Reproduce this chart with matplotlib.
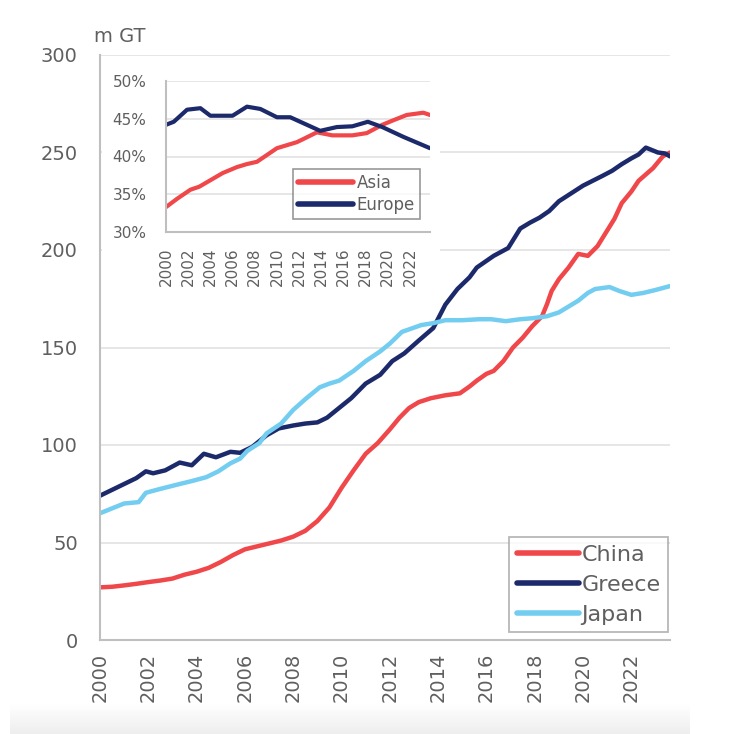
import numpy as np
import matplotlib
matplotlib.use("Agg")
import matplotlib.pyplot as plt
from matplotlib.patches import Rectangle

plt.rcParams['font.family'] = ['DejaVu Sans']

# data (year, m GT)
china_x = [2000.0, 2000.5, 2001.0, 2001.5, 2002.0, 2002.5, 2003.0, 2003.5, 2004.0, 2004.5,
           2005.0, 2005.5, 2006.0, 2006.5, 2007.0, 2007.5, 2008.0, 2008.5, 2009.0, 2009.5,
           2010.0, 2010.5, 2011.0, 2011.5, 2012.0, 2012.4, 2012.8, 2013.2, 2013.7, 2014.3,
           2014.9, 2015.3, 2015.6, 2016.0, 2016.3, 2016.7, 2017.1, 2017.5, 2017.9, 2018.3,
           2018.5, 2018.7, 2019.0, 2019.4, 2019.8, 2020.2, 2020.6, 2020.9, 2021.3, 2021.6,
           2022.0, 2022.3, 2022.9, 2023.3, 2023.6]
china_y = [27, 27.3, 28, 28.8, 29.7, 30.5, 31.5, 33.5, 35, 37,
           40, 43.5, 46.5, 48, 49.5, 51, 53, 56, 61, 68,
           78, 87, 95.5, 101, 108, 114, 119, 122, 124, 125.5,
           126.5, 130, 133, 136.5, 138, 143, 150, 155, 161, 166,
           172, 179, 185, 191, 198, 197, 202, 208, 216, 224,
           230, 235.5, 242, 248, 250]

greece_x = [2000.0, 2000.5, 2001.0, 2001.5, 2001.9, 2002.2, 2002.7, 2003.3, 2003.8, 2004.3,
            2004.8, 2005.4, 2005.8, 2006.3, 2006.9, 2007.4, 2008.0, 2008.5, 2009.0, 2009.4,
            2009.8, 2010.4, 2011.0, 2011.6, 2012.1, 2012.6, 2013.2, 2013.8, 2014.3, 2014.8,
            2015.3, 2015.6, 2016.3, 2016.9, 2017.4, 2017.8, 2018.2, 2018.6, 2019.0, 2019.5,
            2020.0, 2020.4, 2020.8, 2021.2, 2021.6, 2022.0, 2022.3, 2022.6, 2022.9, 2023.1,
            2023.4, 2023.6]
greece_y = [74, 77, 80, 83, 86.5, 85.5, 87, 91, 89.6, 95.5,
            93.7, 96.5, 96, 99, 105, 108.5, 110, 111, 111.6, 114,
            118, 124, 131.5, 136, 143, 147, 153.6, 160, 172, 180,
            186, 191, 197, 201, 211, 214, 216.6, 220, 225, 229,
            233, 235.5, 238, 240.6, 244, 247, 249, 252.5, 251, 250,
            249.5, 248]

japan_x = [2000.0, 2000.5, 2001.0, 2001.6, 2001.9, 2002.5, 2003.3, 2003.8, 2004.4, 2004.9,
           2005.4, 2005.8, 2006.1, 2006.6, 2006.9, 2007.5, 2008.0, 2008.5, 2009.1, 2009.5,
           2009.9, 2010.5, 2011.0, 2011.6, 2012.0, 2012.5, 2013.3, 2013.8, 2014.3, 2015.0,
           2015.7, 2016.2, 2016.8, 2017.4, 2017.9, 2018.5, 2019.0, 2019.4, 2019.8, 2020.2,
           2020.5, 2021.1, 2021.5, 2022.0, 2022.5, 2023.0, 2023.6]
japan_y = [65, 67.5, 70, 70.7, 75.5, 77.5, 80, 81.5, 83.5, 86.5,
           90.6, 93, 97, 101, 106, 111, 118, 123.5, 129.6, 131.5,
           133, 138, 143, 148, 152, 158, 161.5, 162.5, 164, 164,
           164.5, 164.5, 163.5, 164.5, 165, 166, 168, 171, 174, 178,
           180, 181, 179, 177, 178, 179.5, 181.5]

# inset: share of fleet (%)
asia_x = [2000.0, 2001.0, 2002.2, 2003.0, 2003.7, 2005.1, 2006.4, 2007.3, 2008.2, 2009.0,
          2010.0, 2011.8, 2012.5, 2013.6, 2015.0, 2016.8, 2018.1, 2019.5, 2020.5, 2021.7,
          2023.2, 2023.8]
asia_y = [33.3, 34.4, 35.6, 36.0, 36.6, 37.8, 38.6, 39.0, 39.3, 40.1,
          41.1, 41.9, 42.4, 43.2, 42.8, 42.8, 43.1, 44.2, 44.8, 45.5,
          45.8, 45.5]
europe_x = [2000.0, 2000.7, 2001.9, 2003.1, 2004.0, 2006.0, 2007.3, 2008.5, 2010.0, 2011.2,
            2012.4, 2013.9, 2015.4, 2016.8, 2018.2, 2019.5, 2021.4, 2023.8]
europe_y = [44.2, 44.6, 46.2, 46.4, 45.4, 45.4, 46.6, 46.3, 45.2, 45.2,
            44.4, 43.4, 43.9, 44.0, 44.6, 43.9, 42.6, 41.1]

tick_years = list(range(2000, 2023, 2))
main_yticks = [0, 50, 100, 150, 200, 250, 300]
inset_yticks = [30, 35, 40, 45, 50]

RED = '#f0474a'
NAVY = '#1c2a6b'
LBLUE = '#72cdf1'
TXT = '#5f5f5f'
SPINE = '#bfbfbf'
GRID = '#e4e4e4'

fig = plt.figure(figsize=(7.43, 7.34), dpi=100)

# screenshot-like grey band at the bottom
bg = fig.add_axes([10/743, 0, 680/743, 30/734], zorder=-5)
grad = np.linspace(0, 1, 50).reshape(-1, 1)
bg.imshow(grad, aspect='auto', cmap=matplotlib.colors.LinearSegmentedColormap.from_list('g', ['#eeeeee', '#ffffff']),
          extent=[0, 1, 0, 1], origin='lower')
bg.axis('off')

ax = fig.add_axes([100/743, 1 - 640/734, 570/743, 585/734])
ax.plot(china_x, china_y, color=RED, lw=3.2, label='China', solid_capstyle='round')
ax.plot(greece_x, greece_y, color=NAVY, lw=3.2, label='Greece', solid_capstyle='round')
ax.plot(japan_x, japan_y, color=LBLUE, lw=3.2, label='Japan', solid_capstyle='round')
ax.set_xlim(2000, 2023.6)
ax.set_ylim(0, 300)
ax.set_yticks(main_yticks)
ax.set_xticks(tick_years)
ax.set_xticklabels([str(y) for y in tick_years], rotation=90)
ax.tick_params(length=0, labelsize=14, colors=TXT)
ax.tick_params(axis='y', pad=16)
ax.tick_params(axis='x', pad=9)
ax.set_axisbelow(True)
ax.grid(axis='y', color=GRID, lw=1.3)
for s in ['top', 'right']:
    ax.spines[s].set_visible(False)
for s in ['left', 'bottom']:
    ax.spines[s].set_color(SPINE)
    ax.spines[s].set_linewidth(1.5)
ax.text(-0.01, 1.015, 'm GT', transform=ax.transAxes, fontsize=14, color=TXT,
        ha='left', va='bottom')
# white area behind the inset
ax.add_patch(Rectangle((0.003, 0.58), 0.593, 0.4, transform=ax.transAxes,
                       facecolor='white', edgecolor='none', zorder=1.5))
leg = ax.legend(loc='lower right', bbox_to_anchor=(0.997, 0.013), borderaxespad=0,
                fontsize=16, frameon=True, fancybox=False, handlelength=2.8,
                handletextpad=0.1, labelspacing=0.45, borderpad=0.35)
leg.get_frame().set_edgecolor('#a6a6a6')
leg.get_frame().set_linewidth(1.3)
for t in leg.get_texts():
    t.set_color(TXT)
for h in leg.get_lines():
    h.set_linewidth(4)

# inset
ins = fig.add_axes([166/743, 1 - 232/734, 264/743, 151/734], zorder=3)
ins.plot(asia_x, asia_y, color=RED, lw=3, label='Asia', solid_capstyle='round')
ins.plot(europe_x, europe_y, color=NAVY, lw=3, label='Europe', solid_capstyle='round')
ins.set_xlim(2000, 2023.8)
ins.set_ylim(30, 50)
ins.set_yticks(inset_yticks)
ins.set_yticklabels([f'{v}%' for v in inset_yticks])
ins.set_xticks(tick_years)
ins.set_xticklabels([str(y) for y in tick_years], rotation=90)
ins.tick_params(length=0, labelsize=11, colors=TXT)
ins.tick_params(axis='y', pad=14)
ins.tick_params(axis='x', pad=11)
ins.set_axisbelow(True)
ins.grid(axis='y', color=GRID, lw=1.3)
for s in ['top', 'right']:
    ins.spines[s].set_visible(False)
for s in ['left', 'bottom']:
    ins.spines[s].set_color(SPINE)
    ins.spines[s].set_linewidth(1.5)
leg2 = ins.legend(loc='lower right', bbox_to_anchor=(0.962, 0.086), borderaxespad=0,
                  fontsize=12, frameon=True, fancybox=False, handlelength=3.3,
                  handletextpad=0.2, labelspacing=0.25, borderpad=0.3)
leg2.get_frame().set_edgecolor('#7f7f7f')
leg2.get_frame().set_linewidth(1.2)
for t in leg2.get_texts():
    t.set_color(TXT)
for h in leg2.get_lines():
    h.set_linewidth(4)

fig.savefig('out.png', dpi=100)
